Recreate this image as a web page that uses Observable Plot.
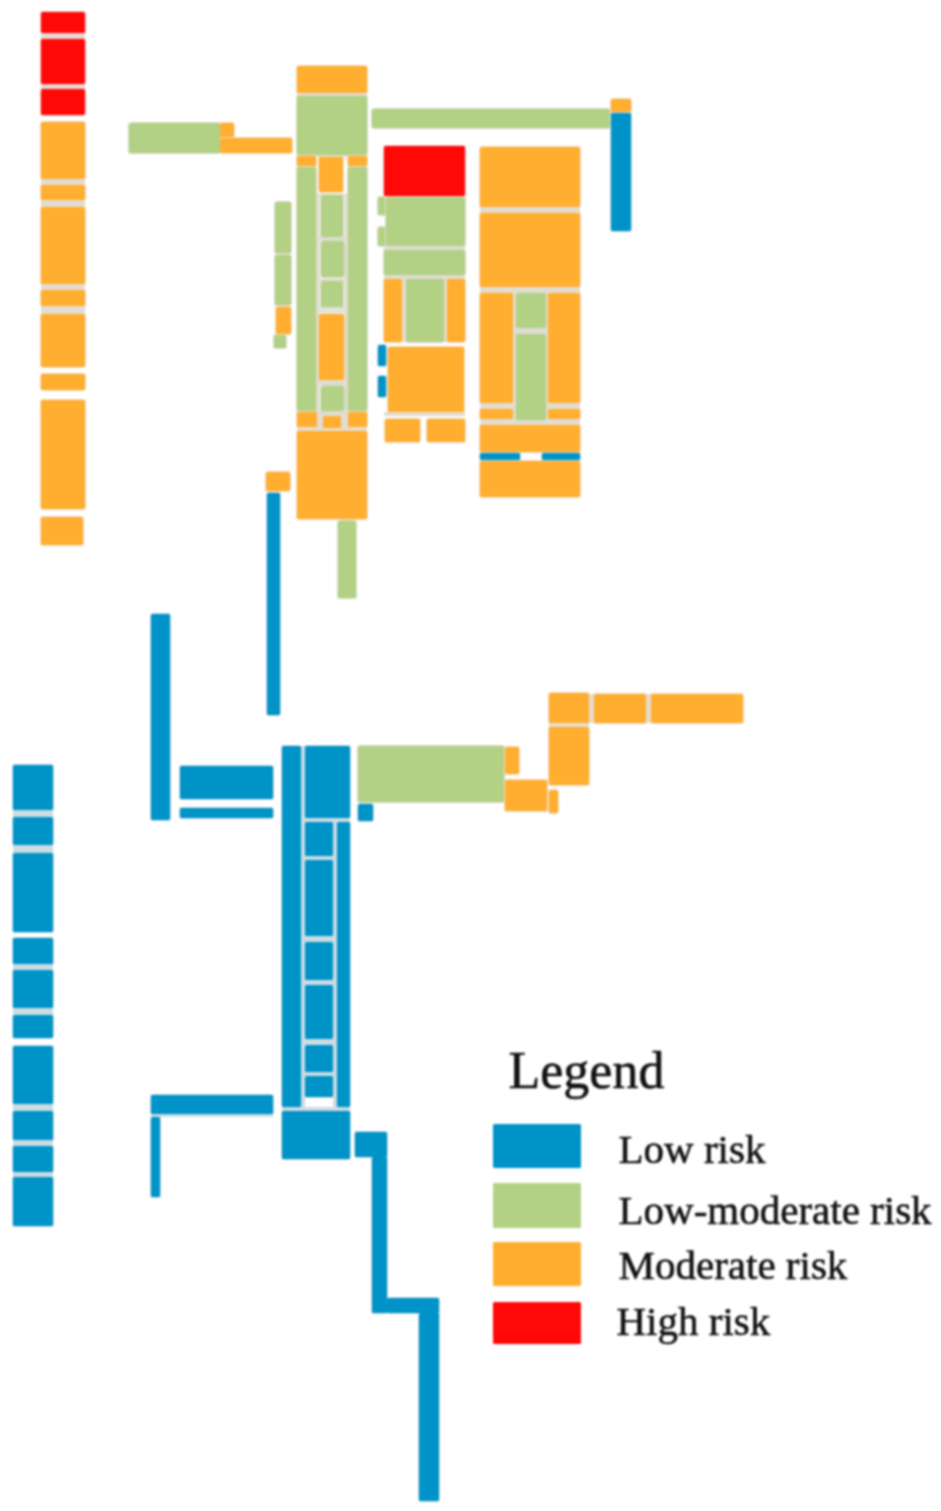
<!DOCTYPE html>
<html>
<head>
<meta charset="utf-8">
<script src="https://cdn.jsdelivr.net/npm/d3@7"></script>
<script src="https://cdn.jsdelivr.net/npm/@observablehq/plot@0.6"></script>
<style>
html,body{margin:0;padding:0;background:#fff;}
#chart svg{display:block;filter:blur(0.9px);}
</style>
</head>
<body>
<div id="chart"></div>
<script>
// Each cell: [x1, y1, x2, y2]
const riskNames = ["Low risk", "Low-moderate risk", "Moderate risk", "High risk"];
const riskColors = ["#0093c8", "#b3d184", "#ffae30", "#ff0808"];
const riskEdges = ["#c3d9e3", "#dadbcc", "#efdcc0", "#f4c8c8"];

const highCells = [
  [41,12,85,33],[41,39,85,84],[41,89,85,115],
  [384,146,465,196]
];
const lowModerateCells = [
  [129,123,220,153],
  [275,202,291,253],[275,255,291,305],[274,335,286,348],
  [297,96,367,155],[297,167,316,411],[348,167,367,411],
  [321,195,343,237],[321,241,344,277],[321,281,343,307],[321,386,344,411],
  [338,521,356,598],
  [372,109,610,128],
  [386,197,465,246],[378,197,385,215],[378,227,385,246],[384,250,465,275],
  [406,279,444,342],
  [516,293,546,328],[516,334,546,420],
  [358,746,504,802]
];
const moderateCells = [
  [41,122,85,179],[41,185,85,200],[41,207,85,284],[41,290,85,306],
  [41,314,85,367],[41,374,85,390],[41,400,85,509],[41,517,83,545],
  [220,123,234,137],[220,138,292,153],
  [276,307,291,334],
  [297,66,367,93],
  [297,156,316,166],[319,157,343,192],[348,156,367,166],
  [319,314,344,380],
  [297,412,317,427],[323,416,341,428],[348,412,367,427],
  [297,431,367,519],
  [266,472,290,491],
  [611,99,631,112],
  [384,279,402,342],[447,279,465,342],
  [388,347,464,412],
  [385,419,420,442],[427,419,465,442],
  [480,147,580,207],[480,213,580,287],
  [480,293,513,403],[480,409,513,419],
  [548,293,580,403],[548,409,580,419],
  [480,425,580,452],[480,461,580,497],
  [505,747,519,774],[505,780,547,811],[549,790,558,813],
  [549,693,589,723],[549,727,589,785],
  [594,694,646,723],[651,694,743,723]
];
const lowCells = [
  [267,493,280,715],
  [611,113,631,231],
  [378,345,386,366],[378,376,386,397],
  [480,453,520,460],[542,453,580,460],
  [151,614,170,820],
  [180,766,273,799],[180,808,273,818],
  [282,746,301,1107],
  [305,746,350,818],
  [305,822,333,856],[305,860,333,936],[305,942,333,980],
  [305,985,333,1039],[305,1045,333,1072],[305,1076,333,1097],
  [337,822,350,1107],
  [282,1111,350,1159],
  [151,1095,273,1114],[151,1117,160,1197],
  [355,1132,387,1157],[372,1157,387,1313],[387,1298,439,1313],[419,1313,439,1501],
  [358,804,373,821],
  [13,765,53,810],[13,817,53,845],[13,853,53,932],[13,938,53,964],
  [13,970,53,1008],[13,1015,53,1038],[13,1046,53,1104],[13,1111,53,1140],
  [13,1146,53,1172],[13,1177,53,1226]
];
const frameCells = [[318,195,346,238],[318,239,346,280],[318,280,346,308],[318,311,346,382],[318,384,346,412]];
// Grey seams between touching cells
const warmSeams = [
  [41,33,85,39],[41,84,85,89],
  [41,179,85,185],[41,200,85,207],[41,284,85,290],[41,306,85,314],
  [297,93,367,96],[297,155,367,157],[297,411,367,431],[297,166,316,167],[348,166,367,167],
  [384,246,465,250],[384,275,465,279],[402,279,406,342],[444,279,447,342],[384,412,465,416],
  [480,207,580,213],[480,287,580,293],[513,293,516,420],[546,293,548,420],
  [480,403,513,409],[548,403,580,409],[480,419,580,425],[516,328,546,334],
  [589,694,594,723],[646,694,651,723],[549,723,589,727]
];
const coolSeams = [
  [13,810,53,817],[13,845,53,853],[13,964,53,970],[13,1008,53,1015],
  [13,1104,53,1111],[13,1140,53,1146],[13,1172,53,1177],
  [301,746,305,1107],[333,818,337,1107],[305,818,350,822],
  [305,856,333,860],[305,936,333,942],[305,980,333,985],[305,1039,333,1045],[305,1072,333,1076],
  [282,1107,350,1111],[151,1114,273,1117]
];

const legendTitle = "Legend";
const legendSwatches = [
  [493,1124,581,1168],[493,1183,581,1228],[493,1242,581,1286],[493,1302,581,1344]
];
const legendTextX = [618, 618, 618, 616];
const legendTextY = [1149, 1210, 1265, 1321];

const toRow = (c, risk) => ({x1: c[0], y1: c[1], x2: c[2], y2: c[3], risk});
const cells = [
  ...lowModerateCells.map(c => toRow(c, riskNames[1])),
  ...moderateCells.map(c => toRow(c, riskNames[2])),
  ...highCells.map(c => toRow(c, riskNames[3])),
  ...lowCells.map(c => toRow(c, riskNames[0]))
];
const swatches = legendSwatches.map((c, i) => toRow(c, riskNames[i]));
const edgeOf = new Map(riskNames.map((n, i) => [n, riskEdges[i]]));
const labels = riskNames.map((t, i) => ({t, x: legendTextX[i], y: legendTextY[i]}));
const box = {x1: "x1", x2: "x2", y1: "y1", y2: "y2"};

const chart = Plot.plot({
  width: 941,
  height: 1511,
  margin: 0,
  style: {background: "#fff"},
  x: {domain: [0, 941], range: [0, 941], axis: null},
  y: {domain: [0, 1511], range: [0, 1511], axis: null},
  color: {domain: riskNames, range: riskColors},
  marks: [
    Plot.rect(warmSeams.map(c => toRow(c)), {...box, fill: "#e0ddd5"}),
    Plot.rect(coolSeams.map(c => toRow(c)), {...box, fill: "#ccdde3"}),
    Plot.rect(frameCells.map(c => toRow(c)), {...box, fill: "none", stroke: "#dcdcd0", strokeWidth: 2.5}),
    Plot.rect(cells, {...box, inset: -0.5, fill: "none", stroke: d => edgeOf.get(d.risk), strokeWidth: 1, rx: 2}),
    Plot.rect(cells, {...box, fill: "risk", rx: 1.5}),
    Plot.rect(swatches, {...box, fill: "risk", rx: 1.5}),
    Plot.text([legendTitle], {
      x: [508], y: [1071], text: d => d, textAnchor: "start",
      fontFamily: "Liberation Serif", fontSize: 52, fill: "#111", stroke: "#111", strokeWidth: 0.6
    }),
    Plot.text(labels, {
      x: "x", y: "y", text: "t", textAnchor: "start",
      fontFamily: "Liberation Serif", fontSize: 41, fill: "#111", stroke: "#111", strokeWidth: 0.6
    })
  ]
});
document.getElementById("chart").appendChild(chart);
</script>
</body>
</html>
